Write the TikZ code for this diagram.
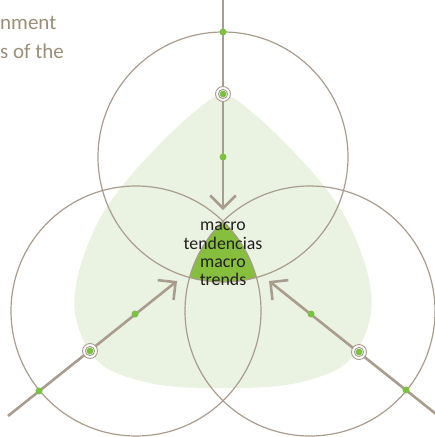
\documentclass[tikz,border=0pt]{standalone}
\usepackage{fontspec}
\setmainfont{Carlito}
\usetikzlibrary{arrows.meta}
\definecolor{taupe}{HTML}{AA9C8D}
\definecolor{paleg}{HTML}{EAF3E1}
\definecolor{darkg}{HTML}{86BE3E}
\definecolor{dotg}{HTML}{7CC242}
\definecolor{textbrown}{HTML}{9B8D78}
\definecolor{textdark}{HTML}{231F20}
\begin{document}
\begin{tikzpicture}[x=1pt,y=-1pt,
  ringline/.style={draw=taupe, line width=1.2pt},
  flow/.style={draw=taupe, line width=2.6pt, -{Straight Barb[angle=90:18pt]}},
  gdot/.style={circle, fill=dotg, inner sep=0pt, minimum size=7pt},
  target/.style={circle, draw=taupe, line width=0.9pt, minimum size=15pt, inner sep=0pt, fill=white,
    path picture={\draw[taupe, line width=0.9pt] (path picture bounding box.center) circle[radius=4.6pt];
                  \fill[dotg] (path picture bounding box.center) circle[radius=3.4pt];}}]
\useasboundingbox (0,0) rectangle (435,437);
% pale green blob
\fill[paleg] plot[smooth cycle, tension=0.6] coordinates {
  (223,95) (253,113) (289,147) (319,180) (343,213) (359,247) (369,280) (371,313)
  (359,347) (336,370) (286,385) (223,388) (160,385) (110,370) (87,347) (75,313)
  (77,280) (87,247) (103,213) (127,180) (157,147) (193,113)};
% circle centres
\coordinate (T) at (223,157);
\coordinate (L) at (136,311);
\coordinate (R) at (310,311);
% common intersection
\begin{scope}
  \clip (T) circle[radius=125pt];
  \clip (L) circle[radius=125pt];
  \fill[darkg] (R) circle[radius=125pt];
\end{scope}
\draw[ringline] (T) circle[radius=125pt];
\draw[ringline] (L) circle[radius=125pt];
\draw[ringline] (R) circle[radius=125pt];
% flow lines
\coordinate (tS) at (223,0);   \coordinate (tE) at (223,210);
\coordinate (lS) at (8,416);   \coordinate (lE) at (177,281);
\coordinate (rS) at (436,414); \coordinate (rE) at (269,281);
\draw[flow] (tS) -- (tE);
\draw[flow] (lS) -- (lE);
\draw[flow] (rS) -- (rE);
% markers
\node[gdot] (t1) at (223,32) {};
\node[target] (t2) at (223,94) {};
\node[gdot] (t3) at (223,157) {};
\node[gdot] (l1) at (39,391) {};
\node[target] (l2) at (90,351) {};
\node[gdot] (l3) at (135,314) {};
\node[gdot] (r1) at (406,390) {};
\node[target] (r2) at (359,352) {};
\node[gdot] (r3) at (311,314) {};
% texts
\node[align=center, inner sep=0pt, text=textdark, font=\fontsize{17.8}{18.2}\selectfont] (mt) at (223,254) {macro\\tendencias\\macro\\trends};
\node[anchor=base west, align=left, inner sep=0pt, text=textbrown, font=\fontsize{21}{29}\selectfont] (tl) at (0,58) {nment\\s of the};
\end{tikzpicture}
\end{document}
